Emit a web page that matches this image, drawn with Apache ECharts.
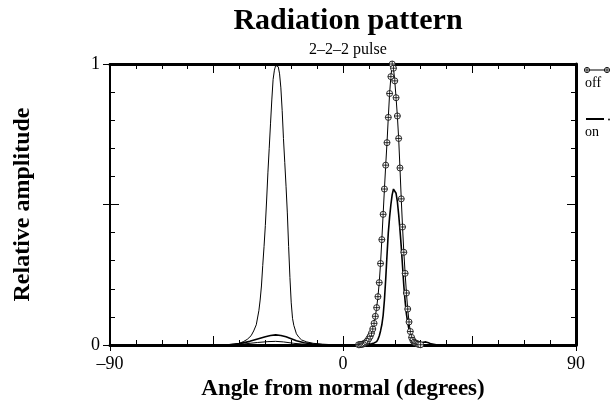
<!DOCTYPE html>
<html>
<head>
<meta charset="utf-8">
<script src="https://cdn.jsdelivr.net/npm/echarts@6/dist/echarts.min.js"></script>
<style>
  html, body { margin: 0; padding: 0; background: #fff; }
  #chart { width: 616px; height: 406px; }
</style>
</head>
<body>
<div id="chart"></div>
<script>
// values (angle in degrees, relative amplitude)
const offAngles = [-90, -44, -38, -33, -29, -26, -23, -19, -14, -9, 0,
  6, 6.5, 7, 7.5, 8, 8.5, 9, 9.5, 10, 10.5, 11, 11.5, 12, 12.5, 13, 13.5, 14, 14.5,
  15, 15.5, 16, 16.5, 17, 17.5, 18, 18.5, 19, 19.5, 20, 20.5, 21, 21.5, 22, 22.5,
  23, 23.5, 24, 24.5, 25, 25.5, 26, 26.5, 27, 27.5, 28, 28.5, 29, 29.5, 30, 90];
const offValues = [0, 0, 0.004, 0.009, 0.012, 0.013, 0.011, 0.006, 0.002, 0, 0,
  0.001, 0.001, 0.002, 0.003, 0.004, 0.007, 0.011, 0.016, 0.023, 0.031, 0.042, 0.057, 0.077, 0.102, 0.133, 0.172, 0.222, 0.29,
  0.375, 0.465, 0.555, 0.64, 0.72, 0.81, 0.895, 0.955, 1.0, 0.985, 0.94, 0.88, 0.815, 0.735, 0.63, 0.52,
  0.42, 0.33, 0.255, 0.185, 0.128, 0.082, 0.048, 0.027, 0.016, 0.01, 0.007, 0.005, 0.003, 0.002, 0.001, 0];

const onAngles = [-90, -44, -40, -36, -33, -30, -28, -26, -24, -22, -20, -18, -15, -12, -8, 0,
  8, 11, 12, 13, 13.5, 14, 14.5, 15, 15.5, 16, 16.5, 17, 17.5, 18, 18.5, 19, 19.5, 20,
  20.5, 21, 21.5, 22, 22.5, 23, 23.5, 24, 24.5, 25, 25.5, 26, 26.5, 27,
  28, 29, 30, 31, 32, 33, 34, 36, 90];
const onValues = [0, 0.001, 0.005, 0.013, 0.021, 0.029, 0.034, 0.036, 0.034, 0.029, 0.022, 0.015, 0.008, 0.004, 0.001, 0,
  0.001, 0.004, 0.007, 0.012, 0.02, 0.032, 0.05, 0.072, 0.105, 0.16, 0.235, 0.32, 0.40, 0.455, 0.5, 0.535, 0.555, 0.556,
  0.54, 0.51, 0.465, 0.41, 0.35, 0.28, 0.21, 0.155, 0.11, 0.08, 0.055, 0.04, 0.028, 0.02,
  0.01, 0.006, 0.007, 0.01, 0.011, 0.008, 0.004, 0.001, 0];

// third trace (its legend entry is cut off in the original)
const thinAngles = [-90, -50, -45, -42, -40, -38.5, -37, -35.5, -34.5, -33.5,
  -32.5, -32, -31.5, -31, -30.5, -30, -29.5, -29, -28.5, -28,
  -27.5, -27, -26.5, -26, -25.6, -25, -24.5, -24, -23.5, -23,
  -22.5, -22, -21.5, -21, -20.5, -20, -19.5, -19, -18, -17,
  -16, -14, -11.5, -8, -4, 0, 90];
const thinValues = [0, 0, 0.001, 0.003, 0.006, 0.012, 0.02, 0.033, 0.05, 0.072,
  0.122, 0.16, 0.21, 0.283, 0.35, 0.425, 0.516, 0.615, 0.70, 0.787,
  0.872, 0.945, 0.978, 0.995, 1.0, 0.99, 0.965, 0.915, 0.835, 0.735,
  0.65, 0.565, 0.47, 0.35, 0.24, 0.15, 0.095, 0.07, 0.04, 0.027,
  0.018, 0.011, 0.006, 0.003, 0.001, 0, 0];

const xLabels = [-90, 0, 90];
const xLongTicks = [-50, 0, 50];
const yLabels = [0, 1];
const yLongTicks = [0.5];

const FONT = '"Liberation Serif", "DejaVu Serif", serif';
const marker = 'path://M10,0A10,10 0 1,1 10,20A10,10 0 1,1 10,0ZM0,10L20,10M10,0L10,20';

const offData = offAngles.map((x, i) =>
  (x >= 6 && x <= 30) ? [x, offValues[i]] : { value: [x, offValues[i]], symbol: 'none' });
const onData = onAngles.map((x, i) => [x, onValues[i]]);
const thinData = thinAngles.map((x, i) => [x, thinValues[i]]);

const tickStyle = { color: '#000', width: 1 };

function xTickAxis (pos, extra) {
  return Object.assign({
    type: 'value', position: pos, min: -90, max: 90,
    axisLine: { show: false, onZero: false },
    axisLabel: { show: false },
    splitLine: { show: false },
    axisTick: { show: true, inside: true, length: 5, lineStyle: tickStyle }
  }, extra);
}
function yTickAxis (pos, extra) {
  return Object.assign({
    type: 'value', position: pos, min: 0, max: 1,
    axisLine: { show: false, onZero: false },
    axisLabel: { show: false },
    splitLine: { show: false },
    axisTick: { show: true, inside: true, length: 5, lineStyle: tickStyle }
  }, extra);
}

// legend drawn by hand at the right edge, as in the original (partly cut off)
function legendMarker (cx, cy) {
  return [
    { type: 'circle', shape: { cx: cx, cy: cy, r: 2.6 }, style: { fill: '#fff', stroke: '#000', lineWidth: 0.9 }, z: 10 },
    { type: 'line', shape: { x1: cx - 2.6, y1: cy, x2: cx + 2.6, y2: cy }, style: { stroke: '#000', lineWidth: 0.8 }, z: 11 },
    { type: 'line', shape: { x1: cx, y1: cy - 2.6, x2: cx, y2: cy + 2.6 }, style: { stroke: '#000', lineWidth: 0.8 }, z: 11 }
  ];
}
const legendGraphics = [
  { type: 'line', shape: { x1: 587, y1: 70, x2: 607, y2: 70 }, style: { stroke: '#000', lineWidth: 1 } },
  ...legendMarker(587, 70),
  ...legendMarker(607, 70),
  { type: 'text', left: 585, top: 76, style: { text: 'off', font: '14px ' + FONT, fill: '#000' } },
  { type: 'line', shape: { x1: 586, y1: 119, x2: 604, y2: 119 }, style: { stroke: '#000', lineWidth: 2 } },
  { type: 'circle', shape: { cx: 609, cy: 119.5, r: 0.9 }, style: { fill: '#000' } },
  { type: 'text', left: 585, top: 125, style: { text: 'on', font: '14px ' + FONT, fill: '#000' } }
];

const chart = echarts.init(document.getElementById('chart'));
chart.setOption({
  animation: false,
  backgroundColor: '#fff',
  title: [
    {
      text: 'Radiation pattern', left: 343, top: 1, textAlign: 'center',
      textStyle: { fontFamily: FONT, fontSize: 30, fontWeight: 'bold', color: '#000' }
    },
    {
      text: '2–2–2 pulse', left: 343, top: 37, textAlign: 'center',
      textStyle: { fontFamily: FONT, fontSize: 16, fontWeight: 'normal', color: '#000' }
    }
  ],
  grid: { left: 110, right: 40, top: 64, bottom: 61 },
  graphic: legendGraphics,
  xAxis: [
    {
      type: 'value', position: 'bottom', min: -90, max: 90, interval: 90,
      name: 'Angle from normal (degrees)', nameLocation: 'middle', nameGap: 32,
      nameTextStyle: { fontFamily: FONT, fontSize: 23, fontWeight: 'bold', color: '#000' },
      axisLine: { show: true, onZero: false, lineStyle: { color: '#000', width: 3 } },
      axisTick: { show: true, inside: false, length: 6, customValues: xLabels, lineStyle: tickStyle },
      axisLabel: {
        customValues: xLabels, fontFamily: FONT, fontSize: 18, color: '#000', margin: 10,
        formatter: v => String(v).replace('-', '–')
      },
      splitLine: { show: false }
    },
    xTickAxis('bottom', { interval: 10 }),
    xTickAxis('bottom', { axisTick: { show: true, inside: true, length: 9, customValues: xLongTicks, lineStyle: tickStyle } }),
    xTickAxis('top', { interval: 10, axisLine: { show: true, onZero: false, lineStyle: { color: '#000', width: 3 } } }),
    xTickAxis('top', { axisTick: { show: true, inside: true, length: 9, customValues: xLongTicks, lineStyle: tickStyle } })
  ],
  yAxis: [
    {
      type: 'value', position: 'left', min: 0, max: 1, interval: 1,
      name: 'Relative amplitude', nameLocation: 'middle', nameGap: 75,
      nameTextStyle: { fontFamily: FONT, fontSize: 24, fontWeight: 'bold', color: '#000' },
      axisLine: { show: true, onZero: false, lineStyle: { color: '#000', width: 2 } },
      axisTick: { show: true, inside: false, length: 7, customValues: [0, 0.5, 1], lineStyle: tickStyle },
      axisLabel: { customValues: yLabels, fontFamily: FONT, fontSize: 18, color: '#000', margin: 10 },
      splitLine: { show: false }
    },
    yTickAxis('left', { interval: 0.1 }),
    yTickAxis('left', { axisTick: { show: true, inside: true, length: 9, customValues: yLongTicks, lineStyle: tickStyle } }),
    yTickAxis('right', { interval: 0.1, axisLine: { show: true, onZero: false, lineStyle: { color: '#000', width: 3 } } }),
    yTickAxis('right', { axisTick: { show: true, inside: true, length: 9, customValues: yLongTicks, lineStyle: tickStyle } })
  ],
  series: [
    {
      name: 'steered', type: 'line', data: thinData,
      xAxisIndex: 0, yAxisIndex: 0,
      symbol: 'none', lineStyle: { color: '#000', width: 1 }, z: 2
    },
    {
      name: 'on', type: 'line', data: onData,
      xAxisIndex: 0, yAxisIndex: 0,
      symbol: 'none', lineStyle: { color: '#000', width: 1.6 }, z: 3
    },
    {
      name: 'off', type: 'line', data: offData,
      xAxisIndex: 0, yAxisIndex: 0,
      symbol: marker, symbolSize: 6, showAllSymbol: true,
      lineStyle: { color: '#000', width: 1 },
      itemStyle: { color: '#fff', borderColor: '#000', borderWidth: 0.8 }, z: 4
    }
  ]
});
</script>
</body>
</html>
